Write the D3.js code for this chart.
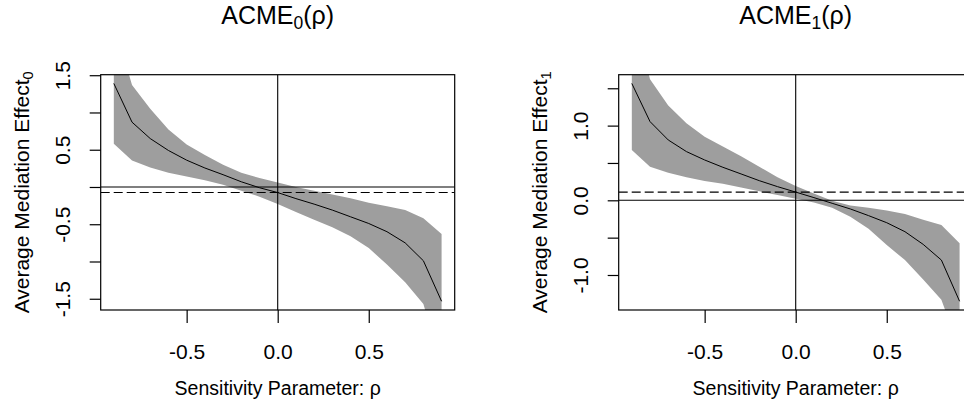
<!DOCTYPE html>
<html><head><meta charset="utf-8">
<script src="https://cdn.jsdelivr.net/npm/d3@7/dist/d3.min.js"></script>
<style>
html,body{margin:0;padding:0;background:#fff;}
svg{display:block;}
text{font-family:"Liberation Sans",Arial,Helvetica,sans-serif;fill:#000;}
</style></head>
<body>
<svg id="chart" width="964" height="403"></svg>
<script>
// ---- data ----
const rho = [-0.9,-0.8,-0.7,-0.6,-0.5,-0.4,-0.3,-0.2,-0.1,0.0,0.1,0.2,0.3,0.4,0.5,0.6,0.7,0.8,0.9];

const acme0      = [1.39,0.87,0.65,0.49,0.36,0.255,0.165,0.07,-0.01,-0.075,-0.156,-0.23,-0.31,-0.40,-0.49,-0.60,-0.75,-0.99,-1.534];
const acme0Upper = [2.2,1.37,1.05,0.77,0.57,0.43,0.30,0.19,0.12,0.06,0.0,-0.05,-0.10,-0.15,-0.21,-0.26,-0.31,-0.42,-0.63];
const acme0Lower = [0.58,0.357,0.26,0.19,0.14,0.09,0.03,-0.05,-0.13,-0.23,-0.335,-0.44,-0.54,-0.66,-0.82,-1.04,-1.28,-1.57,-2.4];
const acme0Est = -0.075;

const acme1      = [1.565,1.054,0.808,0.652,0.54,0.442,0.353,0.263,0.183,0.11,0.036,-0.04,-0.116,-0.205,-0.30,-0.42,-0.59,-0.80,-1.352];
const acme1Upper = [2.6,1.62,1.27,1.03,0.85,0.72,0.59,0.45,0.31,0.19,0.09,-0.005,-0.07,-0.10,-0.135,-0.185,-0.26,-0.33,-0.576];
const acme1Lower = [0.674,0.45,0.37,0.31,0.26,0.22,0.17,0.12,0.07,0.02,-0.03,-0.10,-0.22,-0.38,-0.60,-0.80,-1.06,-1.33,-2.0];
const acme1Est = 0.11;

const xTicks = [-0.5, 0.0, 0.5];
const xTickLabels = ["-0.5", "0.0", "0.5"];
const yTicks0 = [-1.5,-1.0,-0.5,0,0.5,1.0,1.5];
const yTickLabels0 = {"-1.5":"-1.5","-0.5":"-0.5","0.5":"0.5","1.5":"1.5"};
const yTicks1 = [-1.5,-1.0,-0.5,0,0.5,1.0,1.5];
const yTickLabels1 = {"-1":"-1.0","0":"0.0","1":"1.0"};

const titles = [["ACME","0","(ρ)"],["ACME","1","(ρ)"]];
const yLabels = [["Average Mediation Effect","0"],["Average Mediation Effect","1"]];
const xLabel = "Sensitivity Parameter: ρ";

// ---- drawing ----
const svg = d3.select("#chart");

function expand(ext){ const r = ext[1]-ext[0]; return [ext[0]-0.04*r, ext[1]+0.04*r]; }

function panel(idx, left, est, lo, hi, estLine, yTicks, yLabelMap){
  const W = 354, top = 74.7, bottom = 310;
  const x = d3.scaleLinear().domain(expand(d3.extent(rho))).range([left, left+W]);
  const y = d3.scaleLinear().domain(expand(d3.extent(est))).range([bottom, top]);
  const g = svg.append("g");
  const cid = "clip"+idx;
  g.append("clipPath").attr("id", cid).append("rect")
    .attr("x", left).attr("y", top).attr("width", W).attr("height", bottom-top);

  const pts = rho.map((r,i)=>({r, e:est[i], l:lo[i], u:hi[i]}));
  const area = d3.area().x(d=>x(d.r)).y0(d=>y(d.l)).y1(d=>y(d.u));
  g.append("path").attr("d", area(pts)).attr("fill","#9e9e9e").attr("clip-path",`url(#${cid})`);

  const line = d3.line().x(d=>x(d.r)).y(d=>y(d.e));
  g.append("path").attr("d", line(pts)).attr("fill","none").attr("stroke","#000").attr("stroke-width",1);

  const lines = g.append("g").attr("clip-path",`url(#${cid})`);
  lines.append("line").attr("x1",left).attr("x2",left+W).attr("y1",y(0)).attr("y2",y(0))
    .attr("stroke","#000").attr("stroke-width",1.1);
  lines.append("line").attr("x1",x(0)).attr("x2",x(0)).attr("y1",top).attr("y2",bottom)
    .attr("stroke","#000").attr("stroke-width",1.1);
  lines.append("line").attr("x1",left).attr("x2",left+W).attr("y1",y(estLine)).attr("y2",y(estLine))
    .attr("stroke","#000").attr("stroke-width",1.1).attr("stroke-dasharray","9,4");

  g.append("rect").attr("x",left).attr("y",top).attr("width",W).attr("height",bottom-top)
    .attr("fill","none").attr("stroke","#000").attr("stroke-width",1.2);

  // x axis
  const xa = d3.axisBottom(x).tickValues(xTicks).tickSize(13).tickPadding(18)
    .tickFormat((d,i)=>xTickLabels[i]);
  const gx = g.append("g").attr("transform",`translate(0,${bottom})`).call(xa);
  gx.select(".domain").remove();
  gx.selectAll(".tick line").attr("stroke","#000").attr("stroke-width",1.2);
  gx.selectAll(".tick text").attr("font-size",21).attr("dy",null).attr("y",null)
    .attr("transform","translate(0,49)").attr("font-family",'"Liberation Sans",Arial,sans-serif');

  // y axis
  const ya = d3.axisLeft(y).tickValues(yTicks.filter(t=>y(t)>=top-0.5 && y(t)<=bottom+0.5)).tickSize(11)
    .tickFormat(d=>yLabelMap[String(d)]||"");
  const gy = g.append("g").attr("transform",`translate(${left},0)`).call(ya);
  gy.select(".domain").remove();
  gy.selectAll(".tick line").attr("stroke","#000").attr("stroke-width",1.2);
  gy.selectAll(".tick text").attr("font-size",21).attr("x",null).attr("dy",null)
    .attr("text-anchor","middle").attr("transform","translate(-30.7,0) rotate(-90)")
    .attr("font-family",'"Liberation Sans",Arial,sans-serif');

  // x label
  g.append("text").attr("x", x(0)).attr("y", 395).attr("text-anchor","middle")
    .attr("font-size",19.5).text(xLabel);

  // y label
  const yl = g.append("text").attr("text-anchor","middle").attr("font-size",21)
    .attr("transform",`translate(${left-71.5},${(top+bottom)/2}) rotate(-90)`);
  yl.append("tspan").text(yLabels[idx][0]);
  yl.append("tspan").attr("dy",4).attr("font-size",14.7).text(yLabels[idx][1]);

  // title
  const t = g.append("text").attr("x", left+W/2).attr("y", 24).attr("text-anchor","middle").attr("font-size",25);
  t.append("tspan").text(titles[idx][0]);
  t.append("tspan").attr("dy",5).attr("font-size",17.5).text(titles[idx][1]);
  t.append("tspan").attr("dy",-5).text(titles[idx][2]);
}

panel(0, 100.7, acme0, acme0Lower, acme0Upper, acme0Est, yTicks0, yTickLabels0);
panel(1, 618.7, acme1, acme1Lower, acme1Upper, acme1Est, yTicks1, yTickLabels1);
</script>
</body></html>
